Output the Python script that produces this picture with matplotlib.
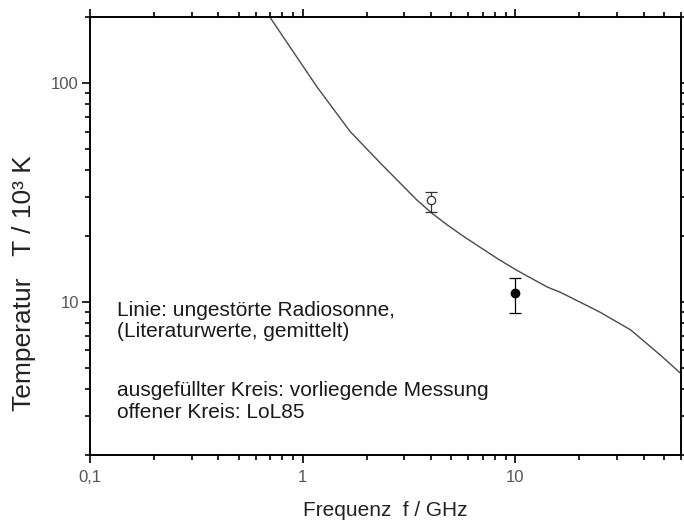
import matplotlib
matplotlib.use('Agg')
import matplotlib.pyplot as plt
from matplotlib.ticker import LogLocator, FixedLocator, FixedFormatter, NullFormatter

plt.rcParams['font.family'] = ['Liberation Sans', 'DejaVu Sans']

# Linie: ungestoerte Radiosonne (Literaturwerte, gemittelt)
freq_line = [0.70, 0.906, 1.166, 1.67, 2.32, 3.44, 4.05, 4.77, 5.71, 8.2, 10.2,
             14.1, 16.3, 22.5, 25.1, 34.8, 43.1, 49.9, 59.7]
temp_line = [200, 138, 96, 60, 43, 29.2, 25.4, 22.5, 19.9, 15.8, 13.9,
             11.7, 11.05, 9.45, 8.95, 7.45, 6.25, 5.53, 4.72]

# vorliegende Messung (gefuellter Kreis)
freq_meas = [10.0]
temp_meas = [11.0]
temp_meas_lo = [8.9]
temp_meas_hi = [12.9]

# LoL85 (offener Kreis)
freq_lol = [4.0]
temp_lol = [29.2]
temp_lol_lo = [25.8]
temp_lol_hi = [31.7]

x_ticks = [0.1, 1, 10]
x_labels = ['0,1', '1', '10']
y_ticks = [10, 100]
y_labels = ['10', '100']

notes = [
    'Linie: ungestörte Radiosonne,',
    '(Literaturwerte, gemittelt)',
    'ausgefüllter Kreis: vorliegende Messung',
    'offener Kreis: LoL85',
]


def main():
    fig = plt.figure(figsize=(6.84, 5.22), dpi=100)
    ax = fig.add_axes([0.1316, 0.1284, 0.864, 0.839])

    ax.plot(freq_line, temp_line, color='#4a4a4a', lw=1.0)

    err_m = [[t - lo for t, lo in zip(temp_meas, temp_meas_lo)],
             [hi - t for t, hi in zip(temp_meas, temp_meas_hi)]]
    ax.errorbar(freq_meas, temp_meas, yerr=err_m, fmt='o', color='black',
                ms=6, capsize=4, elinewidth=0.9, capthick=0.9)

    err_l = [[t - lo for t, lo in zip(temp_lol, temp_lol_lo)],
             [hi - t for t, hi in zip(temp_lol, temp_lol_hi)]]
    ax.errorbar(freq_lol, temp_lol, yerr=err_l, fmt='o', color='#333333',
                mfc='white', mec='#333333', ms=6, mew=0.9, capsize=4,
                elinewidth=0.9, capthick=0.9)

    ax.set_xscale('log')
    ax.set_yscale('log')
    ax.set_xlim(0.1, 60)
    ax.set_ylim(2, 200)

    ax.xaxis.set_major_locator(FixedLocator(x_ticks))
    ax.xaxis.set_major_formatter(FixedFormatter(x_labels))
    ax.xaxis.set_minor_locator(LogLocator(base=10, subs=range(2, 10)))
    ax.xaxis.set_minor_formatter(NullFormatter())
    ax.yaxis.set_major_locator(FixedLocator(y_ticks))
    ax.yaxis.set_major_formatter(FixedFormatter(y_labels))
    ax.yaxis.set_minor_locator(LogLocator(base=10, subs=range(2, 10)))
    ax.yaxis.set_minor_formatter(NullFormatter())

    ax.tick_params(which='both', direction='out', top=True, right=True,
                   width=1.2, colors='black', labelcolor='#555555',
                   labelsize=12)
    ax.tick_params(which='major', length=6)
    ax.tick_params(which='minor', length=3.5)
    ax.tick_params(axis='x', which='major', pad=5)
    ax.tick_params(axis='y', which='major', pad=2)

    for sp in ax.spines.values():
        sp.set_linewidth(1.4)

    ax.set_xlabel('Frequenz  f / GHz', fontsize=15, color='#222222')
    ax.xaxis.set_label_coords(0.5, -0.106)
    ax.set_ylabel('Temperatur   T / 10³ K', fontsize=19, color='#222222')
    ax.yaxis.set_label_coords(-0.092, 0.393)

    y_pos = [0.317, 0.269, 0.135, 0.0845]
    for txt, yp in zip(notes, y_pos):
        ax.text(0.0457, yp, txt, transform=ax.transAxes, fontsize=15,
                color='#1a1a1a', va='baseline', ha='left')

    fig.savefig('out.png', dpi=100)
    plt.close(fig)


if __name__ == '__main__':
    main()
